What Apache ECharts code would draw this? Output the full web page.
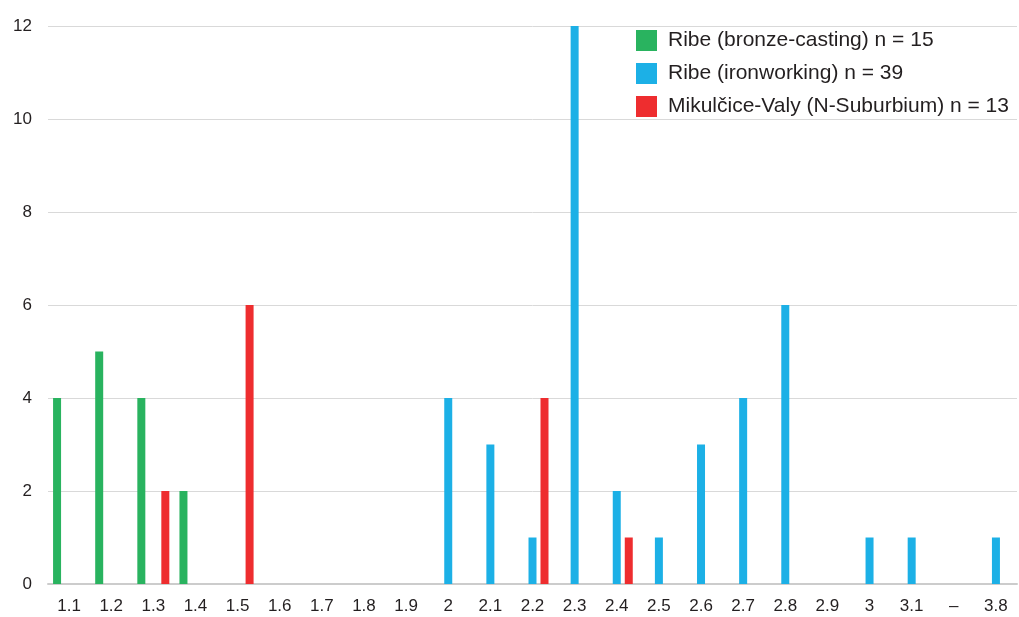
<!DOCTYPE html>
<html><head><meta charset="utf-8">
<script src="https://cdn.jsdelivr.net/npm/echarts@6/dist/echarts.min.js"></script>
<style>html,body{margin:0;padding:0;background:#fff}#c{width:1019px;height:617px}</style>
</head><body><div id="c"></div>
<script>
const categories = ['1.1','1.2','1.3','1.4','1.5','1.6','1.7','1.8','1.9','2','2.1','2.2','2.3','2.4','2.5','2.6','2.7','2.8','2.9','3','3.1','–','3.8'];
const bronze = [4,5,4,2,0,0,0,0,0,0,0,0,0,0,0,0,0,0,0,0,0,0,0];
const iron   = [0,0,0,0,0,0,0,0,0,4,3,1,12,2,1,3,4,6,0,1,1,0,1];
const mikul  = [0,0,2,0,6,0,0,0,0,0,0,4,0,1,0,0,0,0,0,0,0,0,0];
const seriesNames = ['Ribe (bronze-casting) n = 15','Ribe (ironworking) n = 39','Mikulčice-Valy (N-Suburbium) n = 13'];
const yTicks = [0,2,4,6,8,10,12];

const font = 'Liberation Sans, Arial, sans-serif';
const chart = echarts.init(document.getElementById('c'));
const mk = (name, data, color) => ({
  name, type: 'bar', data: data.map(v => v === 0 ? null : v),
  barWidth: 8, barGap: '50%', itemStyle: { color }, animation: false
});
chart.setOption({
  animation: false,
  textStyle: { fontFamily: font },
  grid: { left: 48, right: 2, top: 26, bottom: 33, containLabel: false },
  legend: {
    orient: 'vertical', left: 636, top: 30, padding: 0,
    itemWidth: 21, itemHeight: 21, itemGap: 12,
    icon: 'rect',
    textStyle: { fontSize: 21, color: '#231f20', fontFamily: font, padding: [0,0,0,6] },
    data: seriesNames
  },
  xAxis: {
    type: 'category', data: categories,
    axisLine: { lineStyle: { color: '#cccccc', width: 2 } },
    axisTick: { show: false },
    axisLabel: { fontSize: 17, color: '#231f20', margin: 14, interval: 0, fontFamily: font }
  },
  yAxis: {
    type: 'value', min: yTicks[0], max: yTicks[yTicks.length-1], interval: 2,
    axisLine: { show: false }, axisTick: { show: false },
    axisLabel: { fontSize: 17, color: '#231f20', margin: 16, fontFamily: font },
    splitLine: { lineStyle: { color: '#d9d9d9', width: 1 } }
  },
  series: [
    mk(seriesNames[0], bronze, '#29b35f'),
    mk(seriesNames[1], iron, '#1cb0e6'),
    mk(seriesNames[2], mikul, '#ee2d2f')
  ]
});
</script></body></html>
